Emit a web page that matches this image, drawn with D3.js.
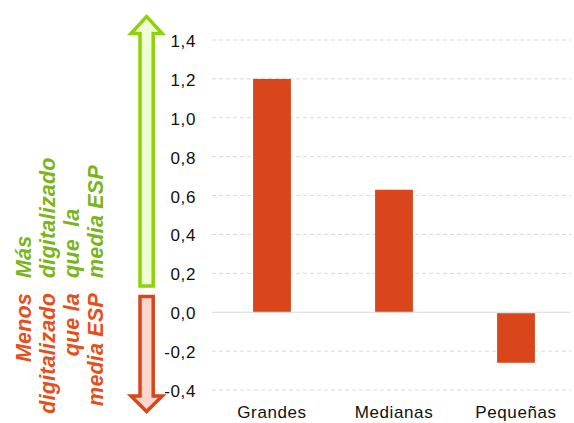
<!DOCTYPE html>
<html><head><meta charset="utf-8">
<script src="https://cdn.jsdelivr.net/npm/d3@7"></script>
<style>
html,body{margin:0;padding:0;background:#fff;}
svg{display:block;font-family:"Liberation Sans",Arial,sans-serif;}
</style></head>
<body>
<svg id="c" width="574" height="423"></svg>
<script>
const categories = ["Grandes", "Medianas", "Pequeñas"];
const values = [1.20, 0.63, -0.26];
const yTicks = [-0.4, -0.2, 0.0, 0.2, 0.4, 0.6, 0.8, 1.0, 1.2, 1.4];
const greenLines = ["Más", "digitalizado", "que  la", "media ESP"];
const redLines = ["Menos", "digitalizado", "que la", "media ESP"];

const svg = d3.select("#c");
const y = d3.scaleLinear().domain([-0.4, 1.4]).range([390, 40]);
const x = d3.scaleBand().domain(categories).range([211, 577]).paddingInner(0.69).paddingOuter(0.345);
const gridX0 = 212, gridX1 = 571;
const FONT = '"Liberation Sans",Arial,sans-serif';

// gridlines
svg.append("g").selectAll("line").data(yTicks.filter(d => d !== 0)).join("line")
  .attr("x1", gridX0).attr("x2", gridX1)
  .attr("y1", d => y(d)).attr("y2", d => y(d))
  .attr("stroke", "#d9d9d9").attr("stroke-width", 1).attr("stroke-dasharray", "4,3");

// bars
svg.append("g").selectAll("rect").data(values).join("rect")
  .attr("x", (d, i) => x(categories[i]))
  .attr("width", x.bandwidth())
  .attr("y", d => d >= 0 ? y(d) : y(0) + 1)
  .attr("height", d => d >= 0 ? y(0) - y(d) : y(d) - y(0) - 1)
  .attr("fill", "#d9461b");

// zero line
svg.append("line").attr("x1", gridX0).attr("x2", gridX1)
  .attr("y1", y(0)).attr("y2", y(0)).attr("stroke", "#d9d9d9").attr("stroke-width", 1);

// y axis labels
const yAxis = d3.axisLeft(y).tickValues(yTicks).tickSize(0).tickPadding(0)
  .tickFormat(d => d3.format(".1f")(d).replace(".", ",").replace("−", "-"));
const ga = svg.append("g").attr("transform", "translate(196,0)").call(yAxis);
ga.select(".domain").remove();
ga.selectAll("text").attr("font-size", 17).attr("fill", "#111")
  .attr("font-family", FONT)
  .style("letter-spacing", "0.6px").attr("dy", "0.38em");

// x axis labels
const xAxis = d3.axisBottom(x).tickSize(0).tickPadding(0);
const gx = svg.append("g").attr("transform", "translate(0,406)").call(xAxis);
gx.select(".domain").remove();
gx.selectAll("text").attr("font-size", 17).attr("fill", "#111")
  .attr("font-family", FONT)
  .style("letter-spacing", "0.6px").attr("dy", "0.72em");

// arrows (annotation)
svg.append("path")
  .attr("d", "M140,286 L140,33.5 L131,33.5 L146.6,16.5 L162.2,33.5 L153.2,33.5 L153.2,286 Z")
  .attr("fill", "#efffd3").attr("stroke", "#8fd10a").attr("stroke-width", 3.5).attr("stroke-linejoin", "miter");
svg.append("path")
  .attr("d", "M140,296.5 L153.2,296.5 L153.2,396 L162.2,396 L146.6,411.5 L131,396 L140,396 Z")
  .attr("fill", "#fad7cd").attr("stroke", "#d9461b").attr("stroke-width", 3.5).attr("stroke-linejoin", "miter");

// rotated texts
const baseX = [31, 55, 79, 103];
const gG = svg.append("g");
greenLines.forEach((t, i) => {
  gG.append("text").attr("transform", `translate(${baseX[i]},278) rotate(-90)`)
    .attr("text-anchor", "start").attr("font-size", 21.5).attr("font-weight", "bold")
    .attr("font-style", "italic").attr("fill", "#79b51c").attr("font-family", FONT)
    .style("letter-spacing", "0.2px").style("white-space", "pre").text(t);
});
const gR = svg.append("g");
redLines.forEach((t, i) => {
  gR.append("text").attr("transform", `translate(${baseX[i]},293) rotate(-90)`)
    .attr("text-anchor", "end").attr("font-size", 21.5).attr("font-weight", "bold")
    .attr("font-style", "italic").attr("fill", "#e4501c").attr("font-family", FONT)
    .style("letter-spacing", "0.2px").style("white-space", "pre").text(t);
});
</script>
</body></html>
